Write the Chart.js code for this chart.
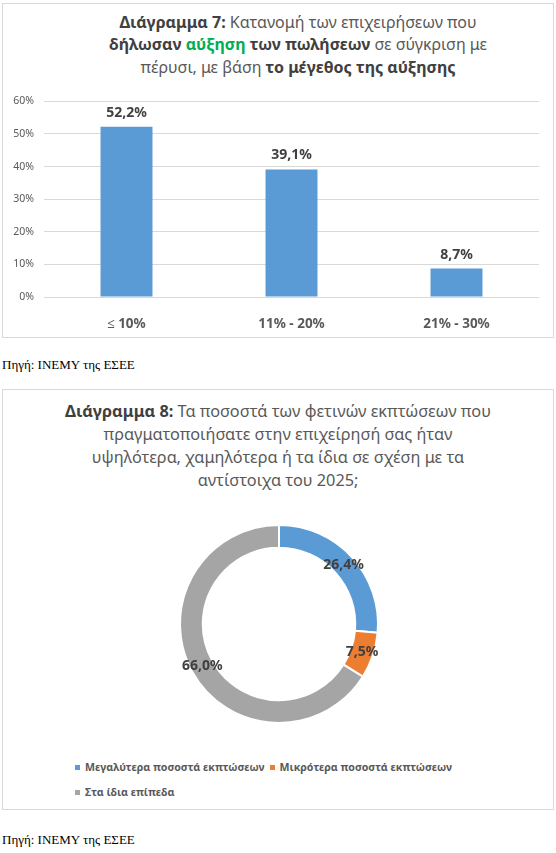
<!DOCTYPE html>
<html>
<head>
<meta charset="utf-8">
<script src="https://cdn.jsdelivr.net/npm/chart.js@4.4.1/dist/chart.umd.min.js"></script>
<style>
  body { margin: 0; background: #fff; width: 556px; height: 853px; position: relative; overflow: hidden; font-family: "Noto Sans", sans-serif; }
  .box { position: absolute; border: 1px solid #d9d9d9; box-sizing: border-box; }
  .title { position: absolute; text-align: center; color: #595959; white-space: nowrap; }
  .title b { color: #404040; }
  .title .green { color: #00b050; }
  .src { position: absolute; left: 2px; font-family: "Liberation Serif", serif; font-size: 13px; color: #000; }
  canvas { position: absolute; }
  #legend { position: absolute; left: 73px; top: 758px; width: 420px; display: flex; flex-wrap: wrap; row-gap: 7px; }
  #legend .item { display: flex; align-items: center; height: 18px; margin-right: 3px; font-size: 10.6px; font-weight: bold; color: #595959; }
  #legend .sw { width: 5px; height: 5px; margin: 0 5px 0 2px; }
</style>
</head>
<body>
<div class="box" style="left:2px; top:3px; width:552px; height:335px;"></div>
<div class="title" style="left:48px; width:500px; top:10.5px; line-height:22.5px; font-size:16px;">
  <b>Διάγραμμα 7:</b> Κατανομή των επιχειρήσεων που<br>
  <b>δήλωσαν <span class="green">αύξηση</span> των πωλήσεων</b> σε σύγκριση με<br>
  πέρυσι, με βάση <b>το μέγεθος της αύξησης</b>
</div>
<div style="position:absolute; left:2px; top:85px; width:552px; height:250px;"><canvas id="barChart"></canvas></div>
<div class="src" style="top:357px;">Πηγή: ΙΝΕΜΥ της ΕΣΕΕ</div>

<div class="box" style="left:2px; top:389px; width:552px; height:421px;"></div>
<div class="title" style="left:28px; width:500px; top:399.5px; line-height:23px; font-size:16.3px;">
  <b>Διάγραμμα 8:</b> Τα ποσοστά των φετινών εκπτώσεων που<br>
  πραγματοποιήσατε στην επιχείρησή σας ήταν<br>
  υψηλότερα, χαμηλότερα ή τα ίδια σε σχέση με τα<br>
  αντίστοιχα του 2025;
</div>
<div style="position:absolute; left:4px; top:514px; width:550px; height:220px;"><canvas id="donutChart"></canvas></div>
<div id="legend"></div>
<div class="src" style="top:832px;">Πηγή: ΙΝΕΜΥ της ΕΣΕΕ</div>

<script>
const barLabels = ['≤ 10%', '11% - 20%', '21% - 30%'];
const barValues = [52.2, 39.1, 8.7];
const yTicks = [0, 10, 20, 30, 40, 50, 60];

const donutLabels = ['Μεγαλύτερα ποσοστά εκπτώσεων', 'Μικρότερα ποσοστά εκπτώσεων', 'Στα ίδια επίπεδα'];
const donutValues = [26.4, 7.5, 66.0];
const donutColors = ['#5b9bd5', '#ed7d31', '#a5a5a5'];

const fmt = v => v.toFixed(1).replace('.', ',') + '%';

// draws value labels (no datalabels plugin available offline)
const valueLabels = {
  id: 'valueLabels',
  afterDatasetsDraw(chart, args, opts) {
    const ctx = chart.ctx;
    ctx.save();
    ctx.font = 'bold 14px "Noto Sans"';
    ctx.fillStyle = '#404040';
    ctx.textAlign = 'center';
    ctx.textBaseline = 'middle';
    chart.getDatasetMeta(0).data.forEach((el, i) => {
      const v = chart.data.datasets[0].data[i];
      const p = opts.arc ? el.getCenterPoint() : { x: el.x, y: el.y - 14 };
      ctx.fillText(fmt(v), p.x, p.y);
    });
    ctx.restore();
  }
};

new Chart(document.getElementById('barChart'), {
  type: 'bar',
  data: {
    labels: barLabels,
    datasets: [{ data: barValues, backgroundColor: '#5b9bd5', barPercentage: 0.315, categoryPercentage: 1 }]
  },
  options: {
    responsive: true,
    maintainAspectRatio: false,
    animation: false,
    layout: { padding: { top: 14, right: 15, left: 0, bottom: 0 } },
    plugins: { legend: { display: false }, tooltip: { enabled: false }, valueLabels: {} },
    scales: {
      x: {
        grid: { display: false },
        border: { display: false },
        ticks: { color: '#595959', font: { family: 'Noto Sans', size: 13.5, weight: 'bold' }, padding: 11 },
        afterFit: s => { s.height = 38; }
      },
      y: {
        min: 0, max: 60,
        afterBuildTicks: s => { s.ticks = yTicks.map(v => ({ value: v })); },
        grid: { color: '#d9d9d9', drawTicks: false },
        border: { display: false },
        ticks: { color: '#595959', font: { family: 'Noto Sans', size: 10.5 }, padding: 10, callback: v => v + '%' },
        afterFit: s => { s.width = 42; }
      }
    }
  },
  plugins: [valueLabels]
});

const donut = new Chart(document.getElementById('donutChart'), {
  type: 'doughnut',
  data: {
    labels: donutLabels,
    datasets: [{ data: donutValues, backgroundColor: donutColors, borderColor: '#fff', borderWidth: 2 }]
  },
  options: {
    responsive: true,
    maintainAspectRatio: false,
    animation: false,
    radius: 99,
    cutout: '77%',
    plugins: {
      tooltip: { enabled: false },
      valueLabels: { arc: true },
      legend: { display: false }
    }
  },
  plugins: [valueLabels]
});

// html legend built from the chart's own legend items
const legendEl = document.getElementById('legend');
donut.options.plugins.legend.labels.generateLabels(donut).forEach(item => {
  const row = document.createElement('div');
  row.className = 'item';
  const sw = document.createElement('span');
  sw.className = 'sw';
  sw.style.background = item.fillStyle;
  row.appendChild(sw);
  row.appendChild(document.createTextNode(item.text));
  legendEl.appendChild(row);
});
</script>
</body>
</html>
